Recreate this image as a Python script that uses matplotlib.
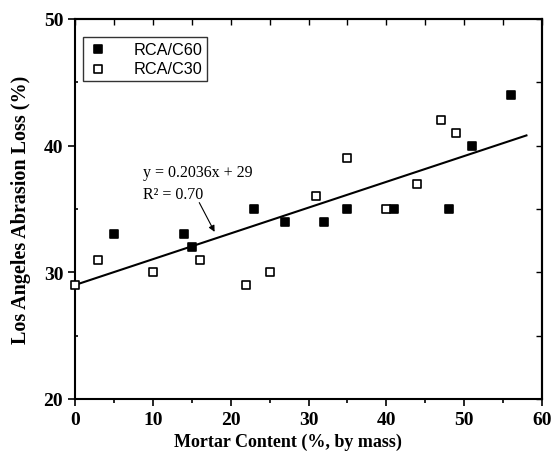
import matplotlib
matplotlib.use("Agg")
import matplotlib.pyplot as plt
import numpy as np
from matplotlib.ticker import MultipleLocator

c60_x = [5, 14, 15, 23, 27, 32, 35, 41, 48, 51, 56]
c60_y = [33, 33, 32, 35, 34, 34, 35, 35, 35, 40, 44]
c30_x = [0, 3, 10, 16, 22, 25, 31, 35, 40, 44, 47, 49]
c30_y = [29, 31, 30, 31, 29, 30, 36, 39, 35, 37, 42, 41]
slope, intercept = 0.2036, 29
fit_x = [0, 58]

fig = plt.figure(figsize=(5.55, 4.64), dpi=100)
ax = fig.add_axes([75/555, 1-400/464, 467/555, 380/464])

serif = "Liberation Serif"
sans = "Liberation Sans"

fx = np.array(fit_x, dtype=float)
ax.plot(fx, slope*fx + intercept, color="black", lw=1.5, zorder=2)
ax.scatter(c60_x, c60_y, marker="s", s=40, facecolor="black", edgecolor="black",
           linewidths=1.2, label="RCA/C60", zorder=3, clip_on=False)
ax.scatter(c30_x, c30_y, marker="s", s=28, facecolor="white", edgecolor="black",
           linewidths=1.2, label="RCA/C30", zorder=3, clip_on=False)

ax.set_xlim(0, 60)
ax.set_ylim(20, 50)
ax.xaxis.set_major_locator(MultipleLocator(10))
ax.xaxis.set_minor_locator(MultipleLocator(5))
ax.yaxis.set_major_locator(MultipleLocator(10))
ax.yaxis.set_minor_locator(MultipleLocator(5))
ax.tick_params(which="both", direction="out", top=False, right=False, width=1.2)
ax.tick_params(which="major", length=5)
ax.tick_params(axis="x", which="minor", length=3)
ax.tick_params(axis="y", which="minor", direction="in", length=2)
sx = ax.secondary_xaxis("top")
sx.set_xticks(np.arange(0, 61, 5))
sx.tick_params(direction="in", labeltop=False, length=4, width=1)
sx.spines["top"].set_linewidth(1.5)
sy = ax.secondary_yaxis("right")
sy.set_yticks(np.arange(20, 51, 5))
sy.tick_params(direction="in", labelright=False, length=4, width=1)
sy.spines["right"].set_linewidth(1.5)
for s in list(ax.spines.values()):
    s.set_linewidth(1.5)

for lab in ax.get_xticklabels() + ax.get_yticklabels():
    lab.set_fontfamily(serif)
    lab.set_fontweight("bold")
    lab.set_fontsize(14)

ax.set_xlabel("Mortar Content (%, by mass)", fontfamily=serif, fontweight="bold",
              fontsize=13, labelpad=3)
ax.xaxis.set_label_coords(0.456, -0.088)
ax.set_ylabel("Los Angeles Abrasion Loss (%)", fontfamily=serif, fontweight="bold",
              fontsize=14.5, labelpad=9)

leg = ax.legend(loc="upper left", bbox_to_anchor=(0.017, 0.953), borderaxespad=0,
                frameon=True, fancybox=False, edgecolor="black",
                prop={"family": sans, "size": 11.7},
                handletextpad=1.6, borderpad=0.3, labelspacing=0.25, handlelength=1.2)
leg.get_frame().set_linewidth(1.0)

ax.text(8.7, 37.9, "y = 0.2036x + 29", fontfamily=serif, fontsize=11.5, va="center")
ax.text(8.7, 36.2, "R² = 0.70", fontfamily=serif, fontsize=11.5, va="center")
ax.annotate("", xy=(18.1, 33.0), xytext=(15.8, 35.7),
            arrowprops=dict(arrowstyle="-|>", color="black", lw=0.8, mutation_scale=9))

fig.savefig("out.png", dpi=100)
